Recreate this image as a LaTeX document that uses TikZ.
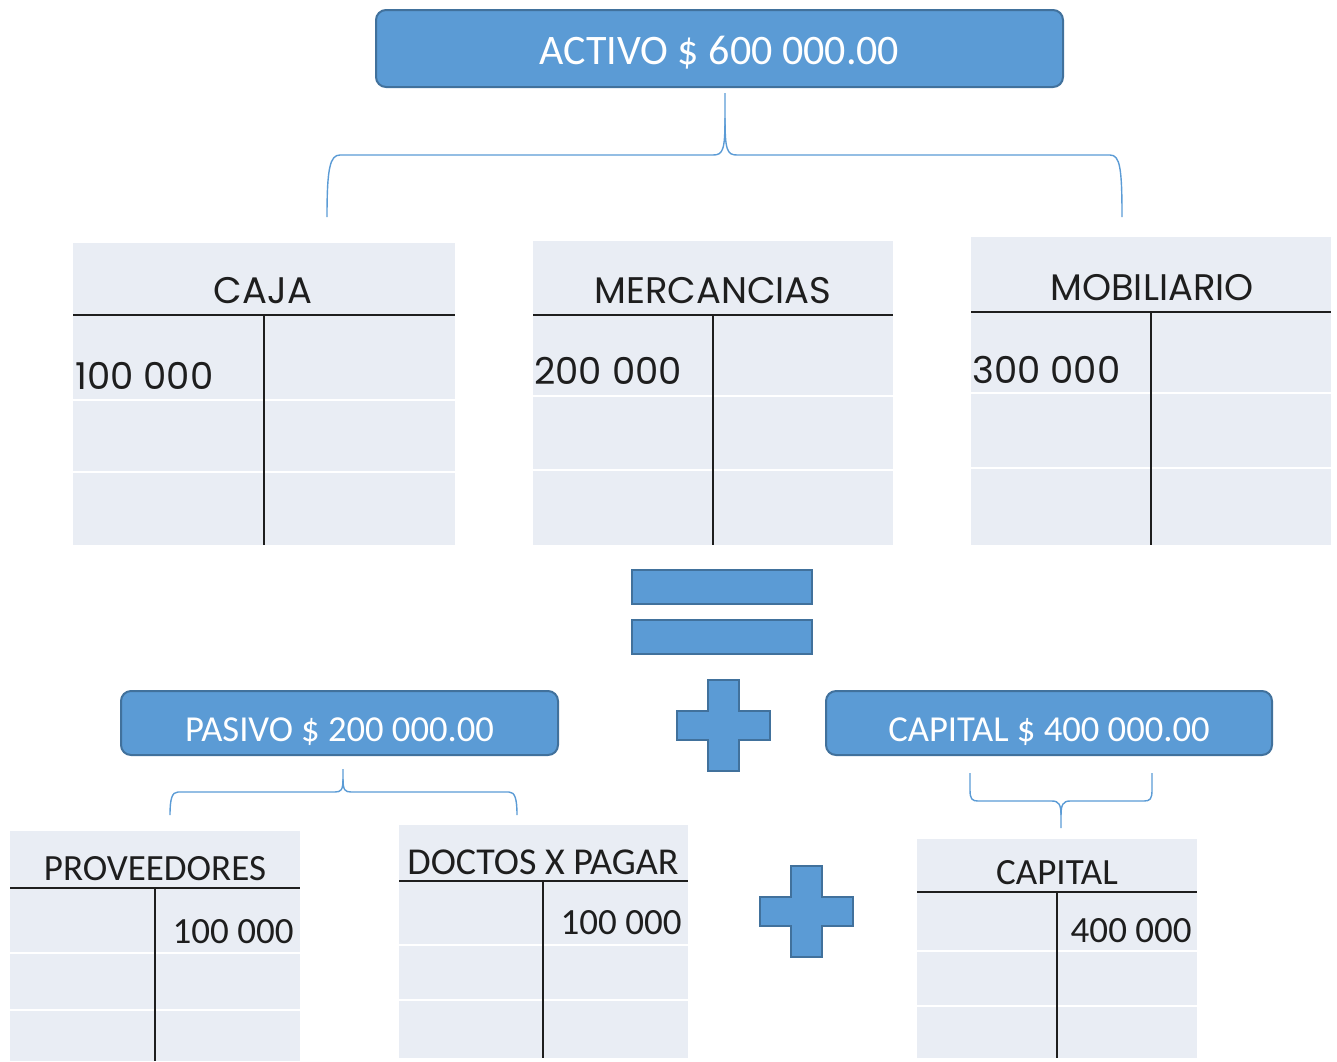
\documentclass[tikz,border=0pt]{standalone}
\usepackage{fontspec}
\setmainfont{Carlito}
\newfontfamily\geofont{Poppins}
\definecolor{azul}{HTML}{5B9BD5}
\definecolor{azulborde}{HTML}{41719C}
\definecolor{fondo}{HTML}{E9EDF4}
\definecolor{tinta}{HTML}{1E1E1E}
\tikzset{
  caja azul/.style={draw=azulborde, fill=azul, line width=1pt, rounded corners=5pt,
    text=white, inner sep=0pt, text depth=0pt},
  barra/.style={draw=azulborde, fill=azul, line width=1pt},
  llave/.style={draw=azul, line width=0.7pt},
  separador/.style={draw=white, line width=1.2pt},
  raya/.style={draw=tinta, line width=1pt},
  titulo/.style={anchor=base, text=tinta, inner sep=0pt},
}
% cuenta T: x1, y1, x2, y2, linea titulo, linea vertical, separador 1, separador 2
\newcommand{\cuentaT}[8]{%
  \fill[fondo] (#1,#2) rectangle (#3,#4);
  \draw[separador] (#1,#7) -- (#3,#7);
  \draw[separador] (#1,#8) -- (#3,#8);
  \draw[raya] (#1,#5) -- (#3,#5);
  \draw[raya] (#6,#5) -- (#6,#4);
}
\begin{document}
\begin{tikzpicture}[x=0.5pt,y=-0.5pt]
\useasboundingbox (0,0) rectangle (1337,1061);

% activo
\node[caja azul, minimum width=343.5pt, minimum height=38.5pt, text height=15.5pt,
  font=\fontsize{21}{24}\selectfont] (activo) at (719.5,48.5) {ACTIVO \$ 600 000.00};
\draw[llave] (725,93) -- (725,118) .. controls (725,150) and (723,155) .. (713,155)
  -- (340,155) .. controls (330,155) and (327,168) .. (327,217);
\draw[llave] (725,118) .. controls (725,150) and (727,155) .. (737,155)
  -- (1110,155) .. controls (1120,155) and (1122,168) .. (1122,217);

% cuentas de activo
\cuentaT{73}{243}{455}{545}{315}{264}{400}{472}
\cuentaT{533}{241}{893}{545}{315}{713}{396}{470}
\cuentaT{971}{237}{1331}{545}{312}{1151}{393}{468}
\begin{scope}[font=\geofont\fontsize{18.5}{20}\selectfont]
  \node[titulo] (tcaja) at (263,303) {CAJA};
  \node[titulo] (tmercancias) at (713,303) {MERCANCIAS};
  \node[titulo] (tmobiliario) at (1152,300) {MOBILIARIO};
  \node[titulo, anchor=base west] (vcaja) at (75,389) {100 000};
  \node[titulo, anchor=base west] (vmercancias) at (534,384) {200 000};
  \node[titulo, anchor=base west] (vmobiliario) at (972,383) {300 000};
\end{scope}

% igual y mas
\draw[barra] (632,570) rectangle (812,604);
\draw[barra] (632,620) rectangle (812,654);
\foreach \cx/\cy in {723.5/725.5, 806/911}
  \draw[barra, shift={(\cx,\cy)}] (-15.5,-45.5) -- (15.5,-45.5) -- (15.5,-14.5)
    -- (46.5,-14.5) -- (46.5,14.5) -- (15.5,14.5) -- (15.5,45.5) -- (-15.5,45.5)
    -- (-15.5,14.5) -- (-46.5,14.5) -- (-46.5,-14.5) -- (-15.5,-14.5) -- cycle;

% pasivo y capital
\node[caja azul, minimum width=218.5pt, minimum height=32pt, text height=18pt,
  font=\fontsize{18.3}{22}\selectfont] (pasivo) at (339.5,723) {PASIVO \$ 200 000.00};
\node[caja azul, minimum width=223pt, minimum height=32pt, text height=18pt,
  font=\fontsize{18.3}{22}\selectfont] (capital) at (1049,723) {CAPITAL \$ 400 000.00};
\draw[llave] (343,769) -- (343,779) .. controls (343,790) and (341,792) .. (335,792)
  -- (178,792) .. controls (172,792) and (170,799) .. (170,815);
\draw[llave] (343,779) .. controls (343,790) and (345,792) .. (351,792)
  -- (509,792) .. controls (515,792) and (517,799) .. (517,815);
\draw[llave] (970,773) -- (970,790) .. controls (970,799) and (972,801) .. (978,801)
  -- (1052,801) .. controls (1059,801) and (1061,805) .. (1061,815) -- (1061,828);
\draw[llave] (1152,773) -- (1152,790) .. controls (1152,799) and (1150,801) .. (1144,801)
  -- (1070,801) .. controls (1063,801) and (1061,805) .. (1061,815);

% cuentas de pasivo y capital
\cuentaT{10}{831}{300}{1061}{888}{155}{953}{1010}
\cuentaT{399}{825}{688}{1058}{881}{543}{945}{1000}
\cuentaT{917}{839}{1197}{1058}{892}{1057}{951}{1006}
\begin{scope}[font=\fontsize{18.5}{20}\selectfont]
  \node[titulo] (tproveedores) at (155,880) {PROVEEDORES};
  \node[titulo, font=\fontsize{19}{21}\selectfont] (tdoctos) at (543,874) {DOCTOS X PAGAR};
  \node[titulo] (tcapital) at (1057,884) {CAPITAL};
  \node[titulo, anchor=base east] (vproveedores) at (294,943) {100 000};
  \node[titulo, anchor=base east] (vdoctos) at (682,934) {100 000};
  \node[titulo, anchor=base east] (vcapital) at (1192,942) {400 000};
\end{scope}
\end{tikzpicture}
\end{document}
